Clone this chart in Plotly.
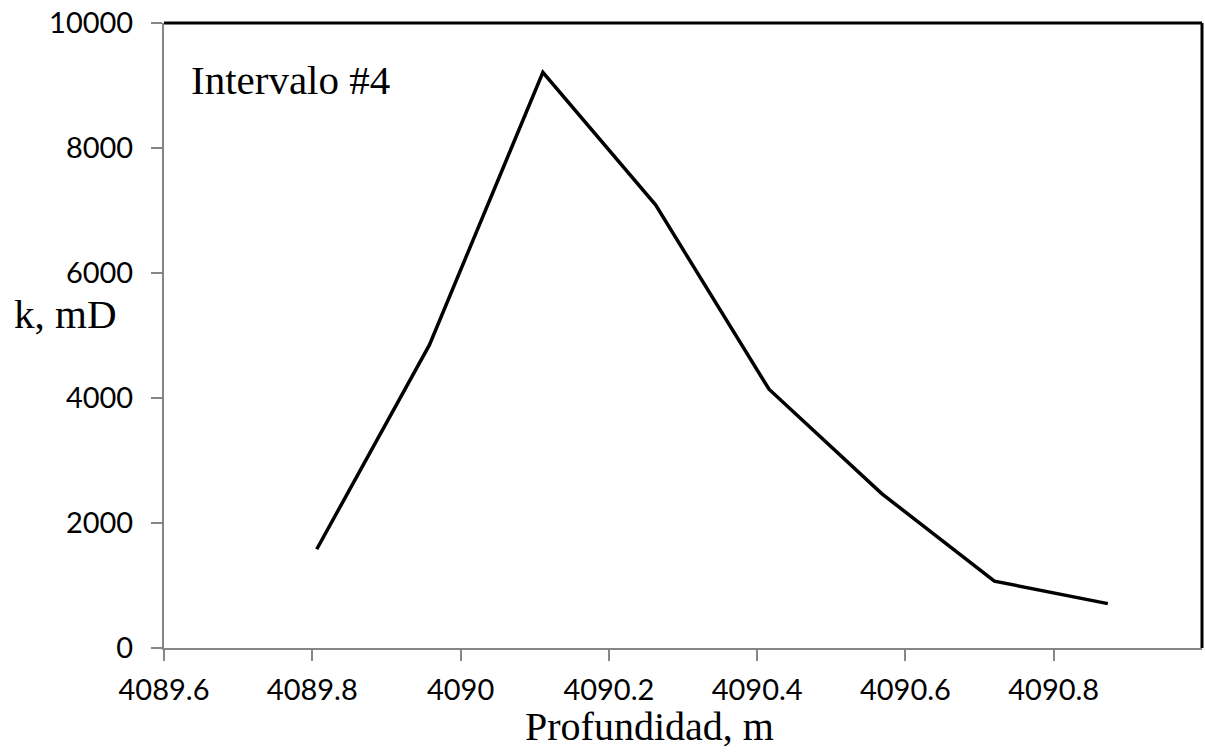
import plotly.graph_objects as go

# Permeability profile along the depth interval
depth_m = [4089.806, 4089.958, 4090.111, 4090.263, 4090.416, 4090.568, 4090.720, 4090.873]
k_mD = [1580, 4850, 9210, 7090, 4140, 2470, 1070, 710]

x_tickvals = [4089.6, 4089.8, 4090.0, 4090.2, 4090.4, 4090.6, 4090.8]
x_ticktext = ["4089.6", "4089.8", "4090", "4090.2", "4090.4", "4090.6", "4090.8"]
y_tickvals = [0, 2000, 4000, 6000, 8000, 10000]
y_ticktext = ["0", "2000", "4000", "6000", "8000", "10000"]

axis_gray = "#868686"
tick_font = dict(family="Lato, Open Sans, sans-serif", size=29, color="black")
serif = "Liberation Serif, Times New Roman, serif"

fig = go.Figure()
fig.add_trace(go.Scatter(
    x=depth_m, y=k_mD, mode="lines",
    line=dict(color="black", width=3.5),
    showlegend=False, hoverinfo="skip",
))

fig.update_layout(
    width=1205, height=754,
    margin=dict(l=164, r=3, t=23, b=106),
    paper_bgcolor="white", plot_bgcolor="white",
    xaxis=dict(
        range=[4089.6, 4091.0], tickvals=x_tickvals, ticktext=x_ticktext,
        showgrid=False, zeroline=False,
        showline=True, linecolor=axis_gray, linewidth=2,
        ticks="outside", ticklen=11, tickwidth=2, tickcolor=axis_gray,
        tickfont=tick_font, ticklabelstandoff=4,
    ),
    yaxis=dict(
        range=[0, 10000], tickvals=y_tickvals, ticktext=y_ticktext,
        showgrid=False, zeroline=False,
        showline=True, linecolor=axis_gray, linewidth=2,
        ticks="outside", ticklen=11, tickwidth=2, tickcolor=axis_gray,
        tickfont=tick_font, ticklabelstandoff=12,
    ),
    shapes=[
        # plot-area frame on the top and right sides
        dict(type="line", xref="paper", yref="paper", x0=0, x1=1, y0=1, y1=1,
             line=dict(color="black", width=3)),
        dict(type="line", xref="paper", yref="paper", x0=1, x1=1, y0=0, y1=1,
             line=dict(color="black", width=3)),
    ],
    annotations=[
        dict(text="Intervalo #4", xref="paper", yref="paper", x=0.024, y=0.908,
             xanchor="left", yanchor="middle", showarrow=False,
             font=dict(family=serif, size=41, color="black")),
        dict(text="k, mD", xref="paper", yref="paper", x=-0.1464, y=0.535,
             xanchor="left", yanchor="middle", showarrow=False,
             font=dict(family=serif, size=41, color="black")),
        dict(text="Profundidad, m", xref="paper", yref="paper", x=0.468, y=-0.125,
             xanchor="center", yanchor="middle", showarrow=False,
             font=dict(family=serif, size=40, color="black")),
    ],
)

fig.write_html("out.html")
